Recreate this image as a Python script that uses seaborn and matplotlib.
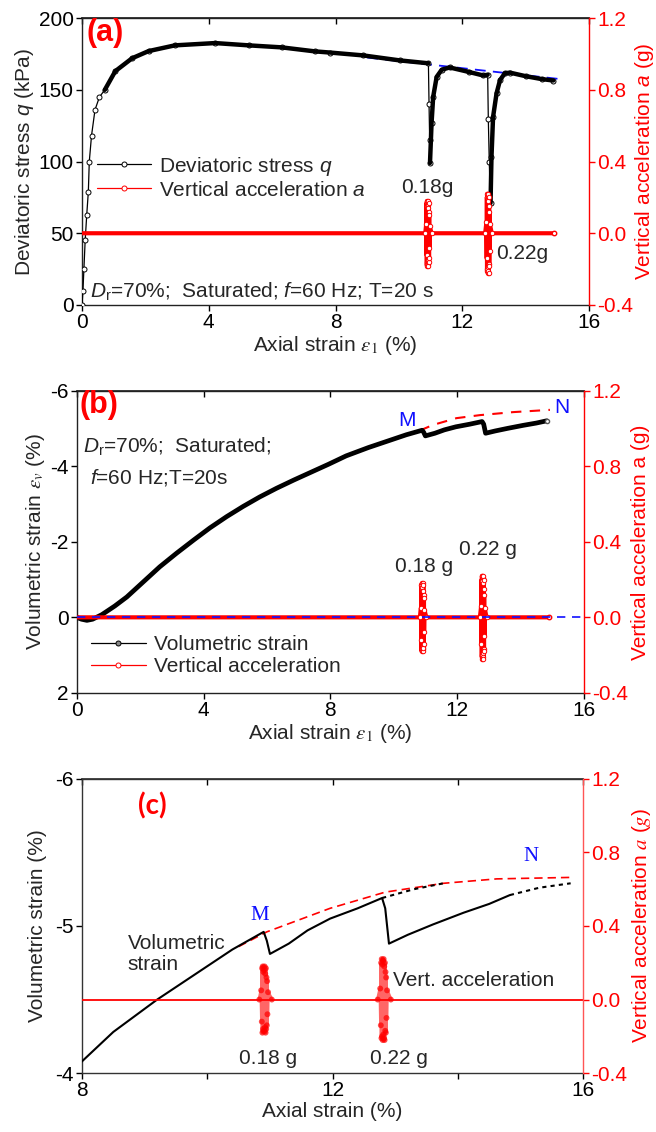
import matplotlib
matplotlib.use("Agg")
import matplotlib.pyplot as plt
import seaborn as sns
from matplotlib.lines import Line2D

# ---------------- data ----------------
# (a) deviatoric stress vs axial strain
q_strain = [0.0, 0.03, 0.06, 0.1, 0.15, 0.2, 0.23, 0.3, 0.41, 0.55, 0.72, 1.05, 1.58, 2.1,
            2.93, 4.2, 5.26, 6.3, 7.35, 7.82, 8.87, 10.03, 10.93, 10.95, 10.97, 10.98, 11.03,
            11.08, 11.19, 11.35, 11.6, 12.2, 12.66, 12.8, 12.82, 12.85, 12.89, 12.92, 12.97,
            13.08, 13.19, 13.34, 13.5, 14.0, 14.5, 14.87]
q_kpa = [0, 10, 25, 45, 63, 79, 100, 118, 136, 145, 150, 163, 172, 177,
         181, 182.6, 181, 179.6, 176.8, 176, 174, 170.5, 168.5, 140, 115, 99, 127,
         145, 159, 164, 165.6, 162.5, 160, 160.5, 130, 100, 71, 103, 131,
         147.5, 156.8, 161.5, 162, 159.5, 157.5, 156.5]
q_trend_strain = [9.0, 15.2]
q_trend_kpa = [172.5, 157.2]

# vertical acceleration bursts (g)
burst1_strain = [10.83, 10.86, 10.87, 10.875, 10.88, 10.885, 10.89, 10.895, 10.90, 10.905,
                 10.91, 10.915, 10.92, 10.925, 10.93, 10.935, 10.94, 10.945, 10.95, 10.955,
                 10.96, 10.97, 11.03]
burst1_acc = [0.0, 0.05, -0.12, 0.17, -0.18, 0.18, -0.16, 0.15, -0.17, 0.16,
              -0.17, 0.18, -0.15, 0.14, -0.18, 0.17, -0.16, 0.12, -0.14, 0.10,
              -0.08, 0.04, 0.0]
burst2_strain = [12.72, 12.76, 12.77, 12.775, 12.78, 12.785, 12.79, 12.795, 12.80, 12.805,
                 12.81, 12.815, 12.82, 12.825, 12.83, 12.835, 12.84, 12.845, 12.85, 12.855,
                 12.86, 12.87, 12.93]
burst2_acc = [0.0, 0.06, -0.14, 0.20, -0.21, 0.22, -0.20, 0.19, -0.22, 0.21,
              -0.19, 0.22, -0.21, 0.18, -0.22, 0.20, -0.17, 0.15, -0.18, 0.12,
              -0.10, 0.05, 0.0]
acc_strain = [0.0, 5.0, 10.0] + burst1_strain + [11.5, 12.3] + burst2_strain + [13.5, 14.89]
acc_g = [0.0, 0.0, 0.0] + burst1_acc + [0.0, 0.0] + burst2_acc + [0.0, 0.0]

# (b), (c) volumetric strain vs axial strain
ev_strain = [0.0, 0.15, 0.32, 0.5, 0.79, 1.2, 1.58, 2.1, 2.62, 3.15, 3.69, 4.2, 4.73, 5.25,
             5.77, 6.3, 6.85, 7.4, 7.95, 8.5, 9.2, 9.8, 10.4, 10.9, 10.95, 11.0, 11.3, 11.6,
             11.96, 12.4, 12.79, 12.84, 12.9, 13.2, 13.6, 14.09, 14.5, 14.83]
ev_pct = [0.0, 0.05, 0.08, 0.05, -0.07, -0.3, -0.54, -0.94, -1.34, -1.70, -2.05, -2.37, -2.67,
          -2.94, -3.19, -3.42, -3.64, -3.85, -4.06, -4.28, -4.50, -4.67, -4.84, -4.96, -4.90,
          -4.81, -4.88, -4.97, -5.05, -5.12, -5.19, -5.12, -4.88, -4.94, -5.01, -5.09, -5.15,
          -5.21]
b_env_strain = [10.82, 11.24, 11.98, 12.72, 13.77, 14.93]
b_env_pct = [-4.95, -5.10, -5.28, -5.36, -5.44, -5.50]
c_env_strain = [10.5, 10.95, 11.96, 12.84, 13.77, 14.62, 15.8]
c_env_pct = [-4.86, -4.96, -5.12, -5.23, -5.29, -5.32, -5.33]
c_ext1_strain = [12.79, 13.3, 13.77]
c_ext1_pct = [-5.19, -5.25, -5.29]
c_ext2_strain = [14.83, 15.3, 15.8]
c_ext2_pct = [-5.21, -5.26, -5.29]

x_ticks = [0, 4, 8, 12, 16]
acc_ticks = [-0.4, 0.0, 0.4, 0.8, 1.2]

# ---------------- style ----------------
sns.set_theme(style="ticks")
plt.rcParams["font.family"] = ["Liberation Sans", "DejaVu Sans"]
plt.rcParams["axes.unicode_minus"] = False
plt.rcParams["mathtext.fontset"] = "custom"
plt.rcParams["mathtext.rm"] = "Liberation Sans"
plt.rcParams["mathtext.it"] = "Liberation Sans:italic"
plt.rcParams["mathtext.bf"] = "Liberation Sans:bold"

FS = 15
RED = "#ff0000"
BLUE = "#1010ff"

fig = plt.figure(figsize=(6.56, 11.32), dpi=100)


def frame(ax, axr, edge="#222222"):
    for s in ("left", "bottom", "top"):
        ax.spines[s].set_color(edge)
        ax.spines[s].set_linewidth(1.0)
    ax.spines["right"].set_visible(False)
    for s in ("left", "bottom", "top"):
        axr.spines[s].set_visible(False)
    axr.spines["right"].set_color(RED)
    axr.spines["right"].set_linewidth(1.0)
    ax.tick_params(axis="both", direction="out", length=4, width=1, labelsize=FS,
                   colors="black", pad=2)
    axr.tick_params(axis="y", direction="out", length=4, width=1, labelsize=FS,
                    colors=RED, pad=2)
    top = ax.secondary_xaxis("top")
    top.set_xticks(ax.get_xticks(minor=False))
    top.tick_params(axis="x", which="both", direction="in", length=4, width=1,
                    labeltop=False, colors="black")
    top.spines["top"].set_color(edge)


def burst_marks(axr, edge_width=0.7):
    # open-circle samples of the two vibration bursts
    for bs, ba in ((burst1_strain, burst1_acc), (burst2_strain, burst2_acc)):
        sns.lineplot(x=bs, y=ba, ax=axr, color=RED, lw=0.8, sort=False, estimator=None,
                     marker="o", markersize=3.2, markerfacecolor="white",
                     markeredgecolor=RED, markeredgewidth=edge_width, zorder=3)


# ================= (a) =================
ax = fig.add_axes([0.125, 0.7306, 0.773, 0.2534])
axr = ax.twinx()
ax.set_xlim(0, 16)
ax.set_ylim(0, 200)
ax.set_xticks(x_ticks)
ax.set_yticks([0, 50, 100, 150, 200])
axr.set_ylim(-0.4, 1.2)
axr.set_yticks(acc_ticks)
axr.set_yticklabels([f"{v:.1f}" for v in acc_ticks])

sns.lineplot(x=q_strain, y=q_kpa, ax=ax, color="black", lw=0.9, sort=False, estimator=None,
             marker="o", markersize=3.6, markerfacecolor="white", markeredgecolor="black",
             markeredgewidth=0.7, zorder=3)
for i0, i1 in ((10, 23), (25, 34), (36, 46)):
    ax.plot(q_strain[i0:i1], q_kpa[i0:i1], color="black", lw=3.2, zorder=4,
            solid_capstyle="round", solid_joinstyle="round")
ax.plot(q_trend_strain, q_trend_kpa, color=BLUE, lw=1.3, dashes=(6, 4), zorder=2)

axr.plot(acc_strain, acc_g, color=RED, lw=3.0, zorder=2)
burst_marks(axr)
axr.plot(acc_strain[-1:], acc_g[-1:], marker="o", markersize=3.2, markerfacecolor="white",
         markeredgecolor=RED, zorder=4)

ax.set_xlabel(r"Axial strain $\varepsilon_1$ (%)", fontsize=FS, labelpad=1,
              math_fontfamily="stix")
ax.set_ylabel(r"Deviatoric stress $q$ (kPa)", fontsize=FS, labelpad=2)
axr.set_ylabel(r"Vertical acceleration $a$ (g)", fontsize=FS, color=RED, labelpad=0)
frame(ax, axr)

ax.text(0.008, 1.0, "(a)", transform=ax.transAxes, ha="left", va="top", color=RED,
        fontsize=22, fontweight="bold")
ax.text(0.25, 9, r"$D_\mathrm{r}$=70%;  Saturated; $f$=60 Hz; T=20 s", fontsize=15,
        ha="left", va="center")
ax.text(10.9, 82, "0.18g", fontsize=FS, ha="center", va="center")
ax.text(13.9, 36, "0.22g", fontsize=FS, ha="center", va="center")

hA = [Line2D([], [], color="black", lw=0.9, marker="o", markersize=3.6,
             markerfacecolor="white", markeredgewidth=0.7),
      Line2D([], [], color=RED, lw=0.9, marker="o", markersize=3.6,
             markerfacecolor="white", markeredgewidth=0.7)]
axr.legend(hA, [r"Deviatoric stress $q$", r"Vertical acceleration $a$"], loc="upper left",
           bbox_to_anchor=(0.0, 0.575), frameon=False, fontsize=FS, handlelength=2.6,
           handletextpad=0.4, labelspacing=0.15, borderaxespad=0.3)

# ================= (b) =================
bx = fig.add_axes([0.117, 0.388, 0.773, 0.2666])
bxr = bx.twinx()
bx.set_xlim(0, 16)
bx.set_ylim(2, -6)
bx.set_xticks(x_ticks)
bx.set_yticks([-6, -4, -2, 0, 2])
bxr.set_ylim(-0.4, 1.2)
bxr.set_yticks(acc_ticks)
bxr.set_yticklabels([f"{v:.1f}" for v in acc_ticks])

sns.lineplot(x=ev_strain, y=ev_pct, ax=bx, color="black", lw=3.4, sort=False, estimator=None,
             zorder=3)
bx.plot(ev_strain[-1:], ev_pct[-1:], marker="o", markersize=3, markerfacecolor="white",
        markeredgecolor="#555555", zorder=4)
bx.plot(b_env_strain, b_env_pct, color=RED, lw=1.5, dashes=(5, 4), zorder=2)

bxr.plot(acc_strain, acc_g, color=RED, lw=3.0, zorder=2)
burst_marks(bxr)
bxr.plot(acc_strain[-1:], acc_g[-1:], marker="o", markersize=3.2, markerfacecolor="white",
         markeredgecolor=RED, zorder=4)
bxr.axhline(0, color=BLUE, lw=1.2, dashes=(5, 4), zorder=5)

bx.set_xlabel(r"Axial strain $\varepsilon_1$ (%)", fontsize=FS, labelpad=1,
              math_fontfamily="stix")
bx.set_ylabel(r"Volumetric strain $\varepsilon_v$ (%)", fontsize=FS, labelpad=2,
              math_fontfamily="stix")
bxr.set_ylabel("Vertical acceleration a (g)", fontsize=FS, color=RED, labelpad=2)
frame(bx, bxr)

bx.text(0.006, 0.955, "(b)", transform=bx.transAxes, ha="left", va="center", color=RED,
        fontsize=22, fontweight="bold")
bx.text(0.012, 0.815, r"$D_\mathrm{r}$=70%;  Saturated;", transform=bx.transAxes,
        fontsize=15, ha="left", va="center")
bx.text(0.026, 0.712, r"$f$=60 Hz;T=20s", transform=bx.transAxes, fontsize=15,
        ha="left", va="center")
bx.text(10.41, -5.23, "M", color=BLUE, fontsize=FS, ha="center", va="center")
bx.text(15.3, -5.55, "N", color=BLUE, fontsize=FS, ha="center", va="center")
bx.text(10.95, -1.34, "0.18 g", fontsize=FS, ha="center", va="center")
bx.text(12.97, -1.79, "0.22 g", fontsize=FS, ha="center", va="center")

hB = [Line2D([], [], color="black", lw=0.9, marker="o", markersize=3.6,
             markerfacecolor="#888888", markeredgewidth=0.7),
      Line2D([], [], color=RED, lw=0.9, marker="o", markersize=3.6,
             markerfacecolor="white", markeredgewidth=0.7)]
bxr.legend(hB, ["Volumetric strain", "Vertical acceleration"], loc="upper left",
           bbox_to_anchor=(0.0, 0.24), frameon=False, fontsize=FS, handlelength=2.6,
           handletextpad=0.4, labelspacing=0.15, borderaxespad=0.3)

# ================= (c) =================
cx = fig.add_axes([0.125, 0.052, 0.764, 0.260])
cxr = cx.twinx()
cx.set_xlim(8, 16)
cx.set_ylim(-4, -6)
cx.set_xticks([8, 10, 12, 14, 16])
cx.set_xticklabels(["8", "", "12", "", "16"])
cx.set_yticks([-6, -5, -4])
cxr.set_ylim(-0.4, 1.2)
cxr.set_yticks(acc_ticks)
cxr.set_yticklabels([f"{v:.1f}" for v in acc_ticks])

sns.lineplot(x=ev_strain, y=ev_pct, ax=cx, color="black", lw=1.5, sort=False, estimator=None,
             zorder=3)
cx.plot(c_env_strain, c_env_pct, color=RED, lw=1.2, dashes=(5, 3), zorder=2)
cx.plot(c_ext1_strain, c_ext1_pct, color="black", lw=1.5, dashes=(2, 2), zorder=2)
cx.plot(c_ext2_strain, c_ext2_pct, color="black", lw=1.5, dashes=(2, 2), zorder=2)

cxr.axhline(0, color=RED, lw=1.3, zorder=2)
for bs, ba in ((burst1_strain, burst1_acc), (burst2_strain, burst2_acc)):
    cxr.plot(bs, ba, color=RED, lw=2.5, alpha=0.6, zorder=3)
    sns.scatterplot(x=bs, y=ba, ax=cxr, color=RED, s=18, alpha=0.7, edgecolor="none",
                    zorder=4, legend=False)

cx.set_xlabel("Axial strain (%)", fontsize=FS, labelpad=1)
cx.set_ylabel("Volumetric strain (%)", fontsize=FS, labelpad=6)
cxr.set_ylabel(r"Vertical acceleration $a$ ($g$)", fontsize=FS, color=RED, labelpad=2,
               math_fontfamily="stix")
frame(cx, cxr, edge="#333333")
cxr.spines["right"].set_color("#ff5555")

cx.text(0.14, 0.908, "(c)", transform=cx.transAxes, ha="center", va="center", color=RED,
        fontsize=20, fontweight="bold", family=["Lato", "DejaVu Sans"])
cx.text(8.73, -4.81, "Volumetric\nstrain", fontsize=FS, ha="left", va="center",
        linespacing=1.15)
cx.text(12.97, -4.63, "Vert. acceleration", fontsize=FS, ha="left", va="center")
cx.text(10.97, -4.10, "0.18 g", fontsize=FS, ha="center", va="center")
cx.text(13.06, -4.10, "0.22 g", fontsize=FS, ha="center", va="center")
cx.text(10.84, -5.07, "M", color=BLUE, fontsize=FS, ha="center", va="center",
        family=["Liberation Serif", "DejaVu Serif"])
cx.text(15.16, -5.47, "N", color=BLUE, fontsize=FS, ha="center", va="center",
        family=["Liberation Serif", "DejaVu Serif"])

fig.savefig("out.png", dpi=100)
